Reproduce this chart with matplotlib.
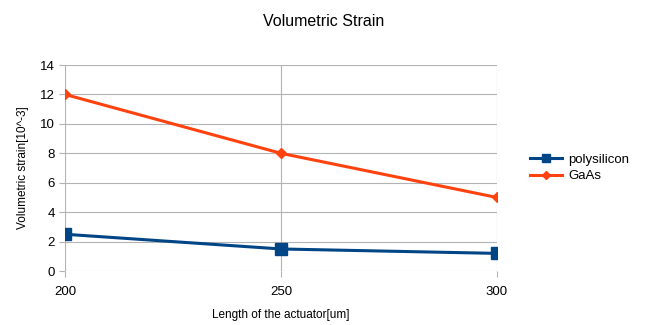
import matplotlib
matplotlib.use("Agg")
from matplotlib import pyplot as plt

# Chart data
lengths = [200, 250, 300]
polysilicon = [2.5, 1.5, 1.2]
gaas = [12, 8, 5]
y_ticks = [0, 2, 4, 6, 8, 10, 12, 14]

plt.rcParams['font.family'] = ['Liberation Sans', 'DejaVu Sans']

fig = plt.figure(figsize=(6.47, 3.25), dpi=100)
ax = fig.add_axes([0.1005, 0.166, 0.6675, 0.634])

ax.plot(lengths, polysilicon, color='#004586', linewidth=2.2, marker='s',
        markersize=8, label='polysilicon')
ax.plot(lengths, gaas, color='#ff420e', linewidth=2.2, marker='D',
        markersize=5, label='GaAs')

ax.set_xlim(200, 300)
ax.set_ylim(0, 14)
ax.set_xticks(lengths)
ax.set_yticks(y_ticks)
ax.tick_params(labelsize=9.5, colors='#b3b3b3', labelcolor='black', length=4)
ax.tick_params(axis='x', pad=7)
ax.grid(True, color='#b3b3b3', linewidth=0.8)
ax.set_axisbelow(True)
for s in ax.spines.values():
    s.set_visible(False)

fig.text(0.5, 0.935, 'Volumetric Strain', ha='center', va='center', fontsize=11.5)
ax.set_xlabel('Length of the actuator[um]', fontsize=8.5, labelpad=8)
ax.set_ylabel('Volumetric strain[10^-3]', fontsize=8.5, labelpad=8)

ax.legend(loc='center left', bbox_to_anchor=(1.05, 0.5), frameon=False,
          fontsize=9.5, handlelength=2.4, handletextpad=0.5,
          labelspacing=0.3, markerscale=0.75)

fig.savefig('out.png', dpi=100)
